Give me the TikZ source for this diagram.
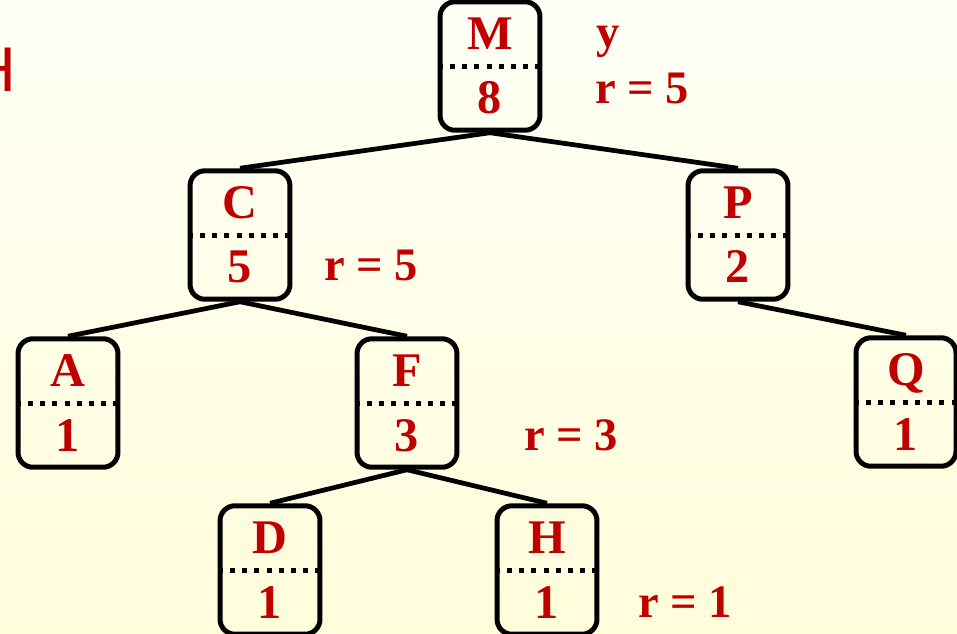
\documentclass[tikz,border=0pt]{standalone}
\usepackage{fontspec}
\setmainfont{Liberation Serif}
\setsansfont{Liberation Sans}
\usetikzlibrary{shapes.multipart}
\definecolor{keyred}{RGB}{192,0,0}
\definecolor{bgtop}{RGB}{255,255,246}
\definecolor{bgbot}{RGB}{255,253,218}
\newcommand\partstrut{\rule[-2.75mm]{0pt}{11.85mm}}

\begin{document}
\begin{tikzpicture}[x=0.02cm,y=-0.02cm,
  tbox/.style={draw,line width=1mm,rounded corners=3mm,rectangle split,rectangle split parts=2,
    rectangle split draw splits=false,inner sep=0pt,text width=20mm,align=center,
    font=\fontsize{27.5}{30}\selectfont\bfseries,text=keyred},
  divider/.style={line width=1mm,dash pattern=on 1mm off 1.45mm},
  tedge/.style={line width=0.95mm},
  rlab/.style={anchor=base west,inner sep=0pt,font=\fontsize{26.5}{30}\selectfont\bfseries,text=keyred}]
\useasboundingbox (0,0) rectangle (957,633);
\shade[top color=bgtop,bottom color=bgbot] (0,0) rectangle (957,633);

% cut-off heading
\node[anchor=base west,inner sep=0pt,font=\sffamily\fontsize{36}{40}\selectfont,text=keyred] (head) at (-30,91) {H};

% tree
\node[tbox] (M) at (490,66) {M\partstrut \nodepart{two} 8\partstrut};
\node[tbox] (C) at (240,235) {C\partstrut \nodepart{two} 5\partstrut};
\node[tbox] (P) at (738,235) {P\partstrut \nodepart{two} 2\partstrut};
\node[tbox] (A) at (68,403) {A\partstrut \nodepart{two} 1\partstrut};
\node[tbox] (F) at (407,403) {F\partstrut \nodepart{two} 3\partstrut};
\node[tbox] (Q) at (906,402) {Q\partstrut \nodepart{two} 1\partstrut};
\node[tbox] (D) at (270,570) {D\partstrut \nodepart{two} 1\partstrut};
\node[tbox] (H) at (547,570) {H\partstrut \nodepart{two} 1\partstrut};
\foreach \n in {M,C,P,A,F,Q,D,H} { \draw[divider] (\n.text split west) -- (\n.text split east); }
\foreach \p/\c in {M/C,M/P,C/A,C/F,P/Q,F/D,F/H} { \draw[tedge] (\p.south) -- (\c.north); }

% rank labels
\node[rlab] (ylab) at (596,47) {y};
\node[rlab] (rM) at (595,103) {r = 5};
\node[rlab] (rC) at (324,280) {r = 5};
\node[rlab] (rF) at (524,450) {r = 3};
\node[rlab] (rH) at (638,617) {r = 1};
\end{tikzpicture}
\end{document}
